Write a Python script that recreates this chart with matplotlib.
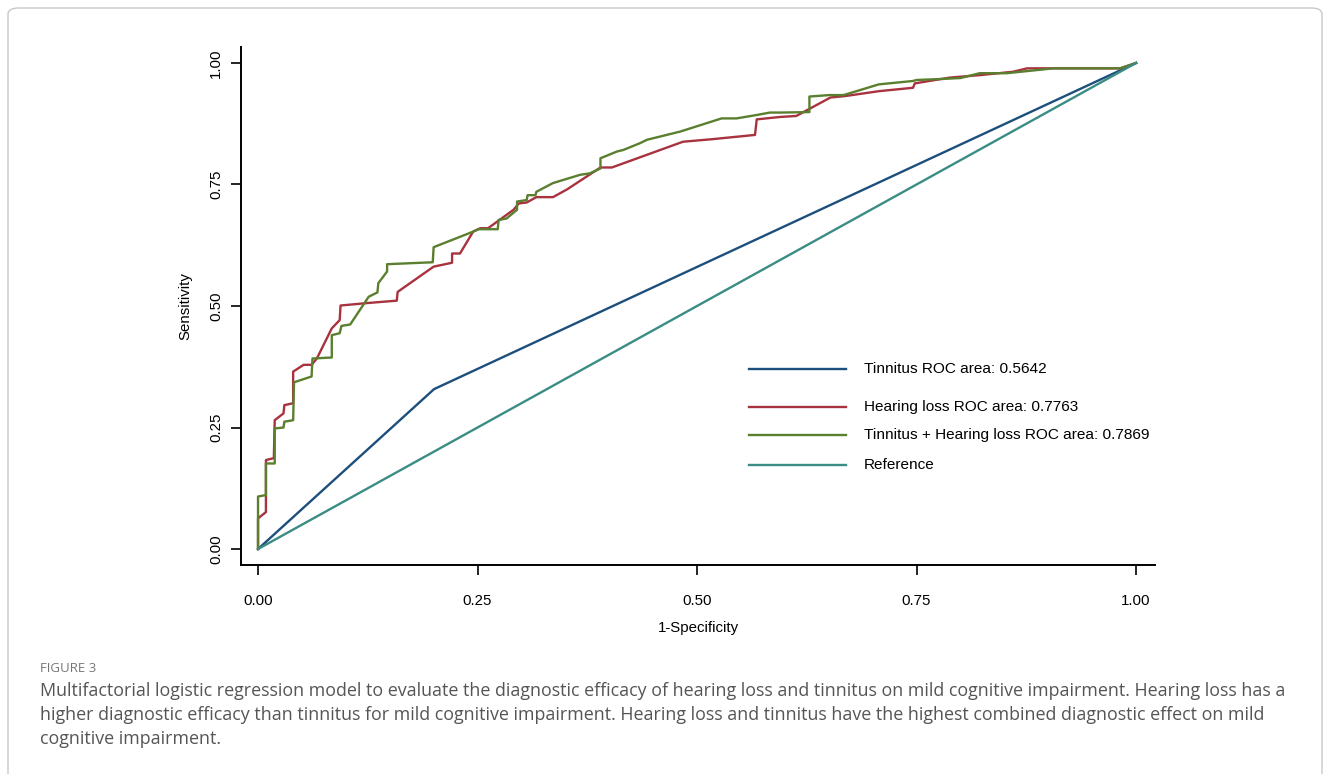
import matplotlib.pyplot as plt
from matplotlib.patches import FancyBboxPatch

# ROC curves (1-specificity, sensitivity)
tinnitus_x = [0.0, 0.2005, 1.0]
tinnitus_y = [0.0, 0.329, 1.0]

hearing_x = [0, 0, 0.009, 0.009, 0.018, 0.019, 0.029, 0.030, 0.040, 0.040, 0.052,
             0.061, 0.067, 0.084, 0.093, 0.094, 0.124, 0.158, 0.159, 0.200, 0.221,
             0.221, 0.230, 0.245, 0.253, 0.262, 0.291, 0.297, 0.306, 0.317, 0.336,
             0.352, 0.374, 0.390, 0.403, 0.484, 0.516, 0.566, 0.568, 0.595, 0.613,
             0.652, 0.669, 0.707, 0.746, 0.748, 0.788, 0.822, 0.860, 0.876, 0.917,
             0.982, 1.0]
hearing_y = [0, 0.063, 0.076, 0.183, 0.187, 0.265, 0.279, 0.296, 0.300, 0.365, 0.379,
             0.379, 0.392, 0.454, 0.471, 0.501, 0.506, 0.511, 0.529, 0.581, 0.589,
             0.608, 0.608, 0.653, 0.660, 0.660, 0.698, 0.711, 0.713, 0.724, 0.724,
             0.740, 0.766, 0.785, 0.785, 0.838, 0.843, 0.852, 0.884, 0.889, 0.891,
             0.929, 0.932, 0.942, 0.949, 0.958, 0.970, 0.975, 0.982, 0.989, 0.989,
             0.989, 1.0]

combined_x = [0, 0, 0.009, 0.009, 0.019, 0.019, 0.029, 0.030, 0.040, 0.041, 0.061,
              0.062, 0.084, 0.084, 0.093, 0.095, 0.105, 0.126, 0.136, 0.137, 0.147,
              0.147, 0.199, 0.200, 0.245, 0.251, 0.273, 0.274, 0.283, 0.295, 0.295,
              0.306, 0.307, 0.316, 0.317, 0.336, 0.367, 0.378, 0.390, 0.390, 0.409,
              0.416, 0.435, 0.443, 0.481, 0.528, 0.545, 0.568, 0.583, 0.595, 0.628,
              0.628, 0.651, 0.667, 0.707, 0.746, 0.750, 0.777, 0.800, 0.822, 0.853,
              0.906, 0.982, 1.0]
combined_y = [0, 0.108, 0.111, 0.176, 0.176, 0.248, 0.250, 0.262, 0.265, 0.343, 0.355,
              0.392, 0.394, 0.440, 0.444, 0.459, 0.462, 0.519, 0.528, 0.547, 0.571,
              0.586, 0.590, 0.621, 0.653, 0.658, 0.658, 0.677, 0.680, 0.698, 0.715,
              0.718, 0.728, 0.728, 0.735, 0.753, 0.770, 0.773, 0.783, 0.804, 0.818,
              0.821, 0.835, 0.842, 0.859, 0.886, 0.886, 0.893, 0.898, 0.898, 0.899,
              0.931, 0.934, 0.934, 0.956, 0.963, 0.965, 0.967, 0.969, 0.979, 0.979,
              0.989, 0.989, 1.0]

reference_x = [0.0, 1.0]
reference_y = [0.0, 1.0]

labels = ['Tinnitus ROC area: 0.5642', 'Hearing loss ROC area: 0.7763',
          'Tinnitus + Hearing loss ROC area: 0.7869', 'Reference']
ticks = [0.0, 0.25, 0.5, 0.75, 1.0]
tick_labels = ['0.00', '0.25', '0.50', '0.75', '1.00']

caption_title = 'FIGURE 3'
caption_lines = [
    'Multifactorial logistic regression model to evaluate the diagnostic efficacy of hearing loss and tinnitus on mild cognitive impairment. Hearing loss has a',
    'higher diagnostic efficacy than tinnitus for mild cognitive impairment. Hearing loss and tinnitus have the highest combined diagnostic effect on mild',
    'cognitive impairment.',
]

colors = ['#1d4f7c', '#a8323e', '#5a7f2e', '#3a8c84']

plt.rcParams['font.family'] = ['Liberation Sans', 'DejaVu Sans']

W, H = 1330, 774
fig = plt.figure(figsize=(W / 100, H / 100), dpi=100)

# rounded frame around the figure panel (bottom edge runs off the image)
frame = FancyBboxPatch((8 / W, -30 / H), (1314 / W), (H - 8 + 30) / H,
                       boxstyle='round,pad=0,rounding_size=0.008',
                       transform=fig.transFigure, fill=False,
                       edgecolor='#c8c8c8', linewidth=1.0)
fig.patches.append(frame)

ax = fig.add_axes([241 / W, (H - 565) / H, (1155 - 241) / W, (565 - 47) / H])

series = [(tinnitus_x, tinnitus_y), (hearing_x, hearing_y),
          (combined_x, combined_y), (reference_x, reference_y)]
for (xs, ys), c in zip(series, colors):
    ax.plot(xs, ys, color=c, linewidth=1.7)

ax.set_xlim(-0.0194, 1.0216)
ax.set_ylim(-0.0329, 1.0329)
ax.set_xticks(ticks)
ax.set_xticklabels(tick_labels, fontsize=10.8)
ax.set_yticks(ticks)
ax.set_yticklabels(tick_labels, fontsize=10.8, rotation=90, va='center')
ax.tick_params(direction='out', length=7, width=1.2, color='black', pad=6)
ax.tick_params(axis='x', pad=14)
for side in ['top', 'right']:
    ax.spines[side].set_visible(False)
for side in ['left', 'bottom']:
    ax.spines[side].set_linewidth(1.4)
ax.set_xlabel('1-Specificity', fontsize=10.8, labelpad=9)
ax.set_ylabel('Sensitivity', fontsize=10.8, labelpad=12)

# legend drawn by hand: the rows are not evenly spaced in the original
legend_rows = [369, 407, 435, 465]
for lab, c, py in zip(labels, colors, legend_rows):
    yf = (H - py) / H
    fig.lines.append(plt.Line2D([749 / W, 846 / W], [yf, yf], color=c,
                                linewidth=1.7, transform=fig.transFigure))
    fig.text(864 / W, yf, lab, fontsize=11.1, va='center', ha='left')

fig.text(40 / W, (H - 669) / H, caption_title, fontsize=9.5, color='#777777',
         family='Open Sans', va='center')
for i, line in enumerate(caption_lines):
    fig.text(40 / W, (H - 691 - 24 * i) / H, line, fontsize=12.9,
             color='#555555', family='Open Sans', va='center')

fig.savefig('out.png', dpi=100, facecolor='white')
